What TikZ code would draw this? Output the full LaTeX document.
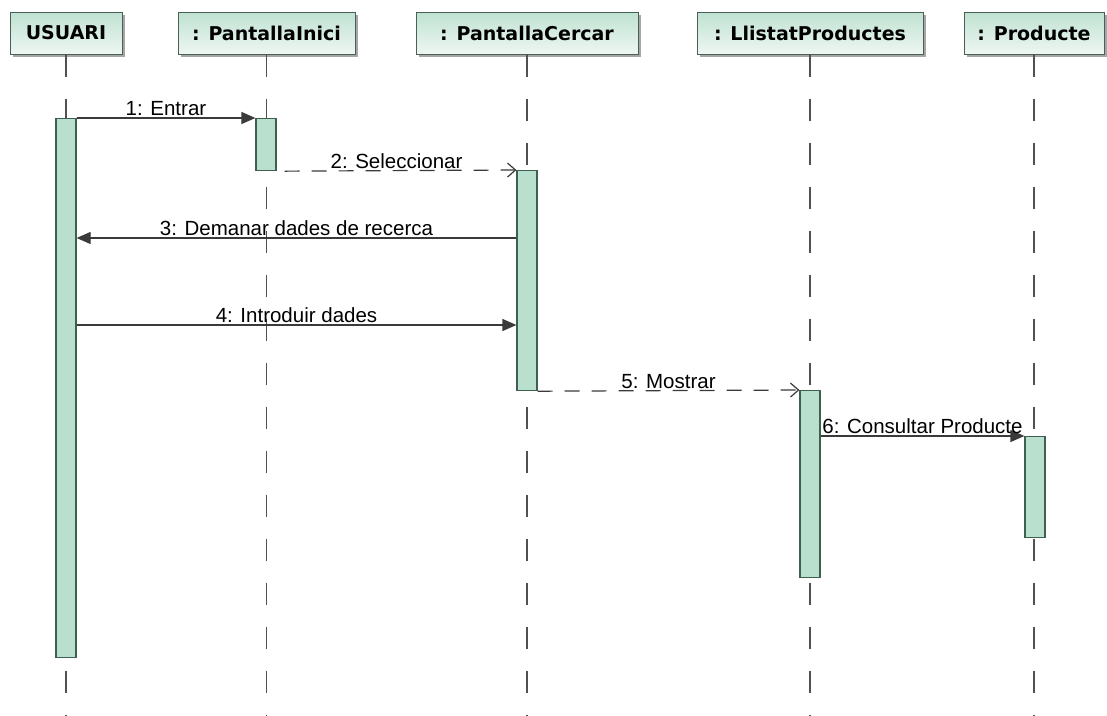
\documentclass[tikz,border=0pt]{standalone}
\usepackage{fontspec}
\setmainfont{Liberation Sans}
\newfontfamily\headfont{DejaVu Sans}
\usetikzlibrary{arrows.meta,calc,shadows}
\definecolor{actfill}{HTML}{B9DFCF}
\definecolor{actline}{HTML}{3F5F50}
\definecolor{headtop}{HTML}{BFE2D2}
\definecolor{headbot}{HTML}{EEF7F2}
\definecolor{headline}{HTML}{4A5F55}
\definecolor{msgline}{HTML}{3A3A3A}
\definecolor{lifegray}{HTML}{505050}
\begin{document}
\begin{tikzpicture}[x=1pt,y=-1pt,
  head/.style={draw=headline, line width=1pt, top color=headtop, bottom color=headbot,
    minimum height=42pt, inner sep=0pt,
    font=\headfont\bfseries\fontsize{19}{22}\selectfont,
    drop shadow={shadow xshift=3pt, shadow yshift=-3pt, fill=black!35, opacity=1}},
  lifeline/.style={draw=lifegray, line width=1.2pt, dash pattern=on 22pt off 22pt},
  act/.style={draw=actline, fill=actfill, line width=1.2pt, minimum width=20pt,
    inner sep=0pt, anchor=north},
  sync/.style={draw=msgline, line width=1.2pt, -{Triangle[length=14pt,width=12pt]}},
  reply/.style={draw=msgline, line width=1.2pt, dash pattern=on 15pt off 12pt,
    -{Straight Barb[length=8pt,width=14pt,line width=1.2pt]}},
  lbl/.style={above, inner sep=1.5pt, text=black, font=\fontsize{20.5}{22}\selectfont}]
\useasboundingbox (0,0) rectangle (1107,715);

% object headers
\node[head, minimum width=112pt] (usr) at (66,33) {USUARI};
\node[head, minimum width=177pt] (ini) at (266.5,33) {: PantallaInici};
\node[head, minimum width=222pt] (cer) at (527,33) {: PantallaCercar};
\node[head, minimum width=226pt] (lli) at (810,33) {: LlistatProductes};
\node[head, minimum width=140pt] (pro) at (1034,33) {: Producte};

% lifelines
\coordinate (usrEnd) at (66,715);
\coordinate (iniEnd) at (266.5,715);
\coordinate (cerEnd) at (527,715);
\coordinate (lliEnd) at (810,715);
\coordinate (proEnd) at (1034,715);
\draw[lifeline] (usr.south) -- (usrEnd);
\draw[lifeline] (ini.south) -- (iniEnd);
\draw[lifeline] (cer.south) -- (cerEnd);
\draw[lifeline] (lli.south) -- (lliEnd);
\draw[lifeline] (pro.south) -- (proEnd);

% activation bars
\node[act, minimum height=539pt] (uA) at (66,118) {};
\node[act, minimum height=52pt]  (iA) at (266,118) {};
\node[act, minimum height=220pt] (cA) at (527,170) {};
\node[act, minimum height=187pt] (lA) at (810,390) {};
\node[act, minimum height=101pt] (pA) at (1035,436) {};

% messages
\draw[sync] (uA.north east) -- node[lbl] {1: Entrar} (iA.north west);
\draw[reply, dash phase=-8pt] (iA.south east) -- node[lbl] {2: Seleccionar} (cA.north west);
\coordinate (y3) at (0,238);
\draw[sync] (cA.west |- y3) -- node[lbl] {3: Demanar dades de recerca} (uA.east |- y3);
\coordinate (y4) at (0,325);
\draw[sync] (uA.east |- y4) -- node[lbl] {4: Introduir dades} (cA.west |- y4);
\draw[reply] (cA.south east) -- node[lbl] {5: Mostrar} (lA.north west);
\draw[sync] (lA.east |- pA.north) -- node[lbl] {6: Consultar Producte} (pA.north west);
\end{tikzpicture}
\end{document}
